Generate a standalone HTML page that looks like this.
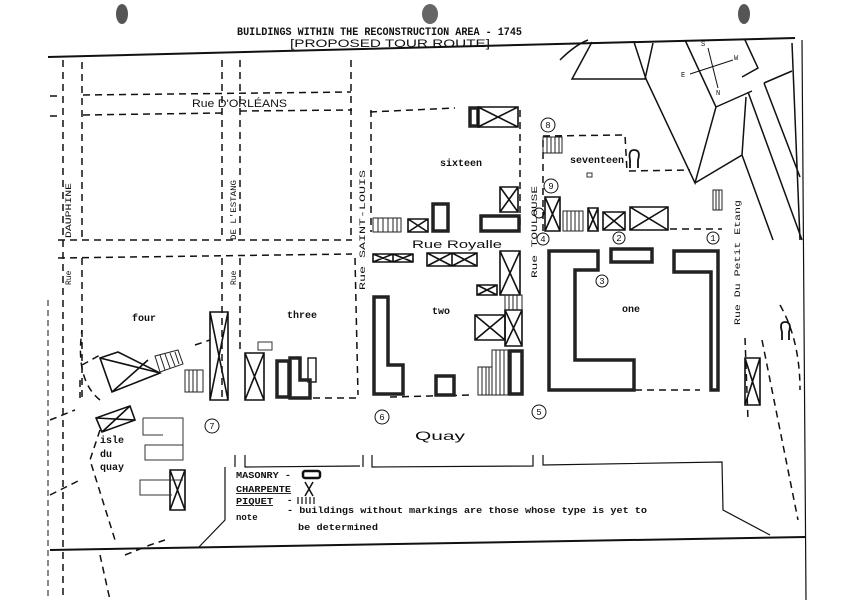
<!DOCTYPE html>
<html><head><meta charset="utf-8"><style>
html,body{margin:0;padding:0;background:#fff}
svg{display:block}
text{font-family:"Liberation Mono",monospace;fill:#111}
.h{font-family:"Liberation Sans",sans-serif}
</style></head><body>
<svg width="841" height="602" viewBox="0 0 841 602" xmlns="http://www.w3.org/2000/svg">
<rect width="841" height="602" fill="#fff"/>
<ellipse cx="122" cy="14" rx="6" ry="10" fill="#555"/>
<ellipse cx="430" cy="14" rx="8" ry="10" fill="#666"/>
<ellipse cx="744" cy="14" rx="6" ry="10" fill="#555"/>
<text x="237" y="35" font-size="11" font-weight="bold" textLength="285" lengthAdjust="spacingAndGlyphs">BUILDINGS WITHIN THE RECONSTRUCTION AREA - 1745</text>
<text x="290" y="47" font-size="11" class="h" textLength="200" lengthAdjust="spacingAndGlyphs">[PROPOSED  TOUR  ROUTE]</text>
<g stroke="#111" fill="none" stroke-width="1.5">
<line x1="48" y1="57" x2="795" y2="38" stroke-width="2"/>
<line x1="50" y1="550" x2="806" y2="537" stroke-width="2"/>
<line x1="802" y1="40" x2="806" y2="600" stroke-width="1.2"/>
<line x1="48" y1="300" x2="48" y2="600" stroke-width="1" stroke-dasharray="6 4"/>
<path d="M560,60 Q575,45 588,40"/>
<path d="M592,42 L572,79 L645,79 L653,43"/>
<path d="M634,42 L646,79 L695,183 L716,107 L685,40"/>
<path d="M716,107 L752,91 M742,77 L758,68 L745,40"/>
<path d="M695,183 L742,155 L746,97 M742,155 L773,240"/>
<path d="M748,92 L802,240 M764,83 L792,71 M764,83 L800,177 M792,43 L800,240"/>
<path d="M708,48 L718,88 M690,74 L733,60" stroke-width="1"/>
</g>
<text x="701" y="46" font-size="7">S</text>
<text x="681" y="77" font-size="7">E</text>
<text x="734" y="60" font-size="7">W</text>
<text x="716" y="95" font-size="7">N</text>
<g stroke="#111" fill="none" stroke-width="1.5" stroke-dasharray="7 5">
<path d="M83,95 L351,92"/>
<path d="M50,96 L60,96"/>
<path d="M83,115 L222,113 M240,111 L352,110"/>
<path d="M50,116 L60,116"/>
<path d="M370,112 L455,108"/>
<path d="M63,60 L63,600"/>
<path d="M82,62 L82,240 M82,258 L82,400"/>
<path d="M222,60 L222,240 M222,258 L222,400"/>
<path d="M240,60 L240,240 M240,258 L240,352"/>
<path d="M351,60 L351,240 M355,258 L358,395"/>
<path d="M371,110 L371,232"/>
<path d="M520,110 L520,230"/>
<path d="M543,140 L543,235"/>
<path d="M58,240 L352,240"/>
<path d="M58,258 L352,254"/>
<path d="M543,136 L625,135 L627,171 L690,170"/>
<path d="M670,229 L722,229"/>
<path d="M635,390 L700,390"/>
<path d="M313,398 L357,398 M390,397 L470,395"/>
<path d="M100,400 Q75,380 82,330"/>
<path d="M50,420 L75,410 M80,380 L80,398"/>
<path d="M50,495 L80,480 M82,365 L100,355 M195,345 L210,340"/>
<path d="M100,430 L90,460 L115,540"/>
<path d="M125,555 L150,545 L165,540 M100,555 L110,600"/>
<path d="M745,338 L748,420"/>
<path d="M762,340 L790,480 L798,520"/>
<path d="M780,305 Q800,340 800,390"/>
</g>
<text x="192" y="107" font-size="11" class="h" textLength="95" lengthAdjust="spacingAndGlyphs">Rue D'ORLÉANS</text>
<text x="412" y="248" font-size="11" class="h" textLength="90" lengthAdjust="spacingAndGlyphs">Rue Royalle</text>
<text x="415" y="440" font-size="12" class="h" textLength="50" lengthAdjust="spacingAndGlyphs">Quay</text>
<g font-size="8" class="h" fill="#222">
<text transform="translate(71,238) rotate(-90)" textLength="55" lengthAdjust="spacingAndGlyphs">DAUPHINE</text>
<text transform="translate(71,285) rotate(-90)">Rue</text>
<text transform="translate(236,240) rotate(-90)" textLength="60" lengthAdjust="spacingAndGlyphs">DE L'ESTANG</text>
<text transform="translate(236,285) rotate(-90)">Rue</text>
<text transform="translate(365,290) rotate(-90)" textLength="120" lengthAdjust="spacingAndGlyphs">Rue SAINT-LOUIS</text>
<text transform="translate(537,278) rotate(-90)" textLength="92" lengthAdjust="spacingAndGlyphs">Rue TOULOUSE</text>
<text transform="translate(740,325) rotate(-90)" textLength="125" lengthAdjust="spacingAndGlyphs">Rue Du Petit Etang</text>
</g>
<g font-size="10" font-weight="bold">
<text x="440" y="166">sixteen</text>
<text x="570" y="163">seventeen</text>
<text x="132" y="321">four</text>
<text x="287" y="318">three</text>
<text x="432" y="314">two</text>
<text x="622" y="312">one</text>
<text x="100" y="443">isle</text>
<text x="100" y="457">du</text>
<text x="100" y="470">quay</text>
</g>
<g stroke="#111" fill="none" stroke-width="1">
<circle cx="548" cy="125" r="7"/><circle cx="551" cy="186" r="7"/><circle cx="539" cy="213" r="5"/>
<circle cx="543" cy="239" r="6"/><circle cx="619" cy="238" r="6"/><circle cx="713" cy="238" r="6"/>
<circle cx="602" cy="281" r="6"/><circle cx="382" cy="417" r="7"/><circle cx="539" cy="412" r="7"/>
<circle cx="212" cy="426" r="7"/>
</g>
<g font-size="9" class="h" text-anchor="middle">
<text x="548" y="128">8</text><text x="551" y="189">9</text><text x="543" y="242">4</text><text x="619" y="241">2</text><text x="713" y="241">1</text><text x="602" y="284">3</text><text x="382" y="420">6</text><text x="539" y="415">5</text><text x="212" y="429">7</text>
</g>
<g stroke="#222" fill="none" stroke-width="3.5">
<rect x="433" y="204" width="15" height="27"/>
<rect x="481" y="216" width="38" height="15"/>
<rect x="470" y="108" width="8" height="18"/>
<path d="M374,297 L388,297 L388,365 L403,365 L403,394 L374,394 Z"/>
<rect x="436" y="376" width="18" height="19"/>
<rect x="510" y="351" width="12" height="43"/>
<path d="M549,251 L598,251 L598,270 L575,270 L575,360 L634,360 L634,390 L549,390 Z"/>
<rect x="611" y="249" width="41" height="13"/>
<path d="M674,251 L718,251 L718,390 L711,390 L711,272 L674,272 Z"/>
<rect x="277" y="361" width="12" height="36"/>
<path d="M290,398 L290,358 L300,358 L300,380 L310,380 L310,398 Z"/>
<rect x="308" y="358" width="8" height="24" stroke-width="1.5"/>
</g>
<g stroke="#111" fill="none" stroke-width="1.6">
<path d="M478,107 L518,107 L518,127 L478,127 Z M478,107 L518,127 M518,107 L478,127"/>
<path d="M500,187 L518,187 L518,212 L500,212 Z M500,187 L518,212 M518,187 L500,212"/>
<path d="M408,219 L428,219 L428,232 L408,232 Z M408,219 L428,232 M428,219 L408,232"/>
<path d="M545,197 L560,197 L560,231 L545,231 Z M545,197 L560,231 M560,197 L545,231"/>
<path d="M588,208 L598,208 L598,231 L588,231 Z M588,208 L598,231 M598,208 L588,231"/>
<path d="M603,212 L625,212 L625,230 L603,230 Z M603,212 L625,230 M625,212 L603,230"/>
<path d="M630,207 L668,207 L668,230 L630,230 Z M630,207 L668,230 M668,207 L630,230"/>
<path d="M373,254 L393,254 L393,262 L373,262 Z M373,254 L393,262 M393,254 L373,262 M393,254 L413,254 L413,262 L393,262 M393,254 L413,262 M413,254 L393,262"/>
<path d="M427,253 L452,253 L452,266 L427,266 Z M427,253 L452,266 M452,253 L427,266 M452,253 L477,253 L477,266 L452,266 M452,253 L477,266 M477,253 L452,266"/>
<path d="M500,251 L520,251 L520,295 L500,295 Z M500,251 L520,295 M520,251 L500,295"/>
<path d="M477,285 L497,285 L497,295 L477,295 Z M477,285 L497,295 M497,285 L477,295"/>
<path d="M475,315 L505,315 L505,340 L475,340 Z M475,315 L505,340 M505,315 L475,340"/>
<path d="M505,310 L522,310 L522,346 L505,346 Z M505,310 L522,346 M522,310 L505,346"/>
<path d="M210,312 L228,312 L228,400 L210,400 Z M210,312 L228,400 M228,312 L210,400"/>
<path d="M100,358 L118,352 L160,373 L112,392 Z M100,358 L160,373 M148,360 L112,392"/>
<path d="M245,353 L264,353 L264,400 L245,400 Z M245,353 L264,400 M264,353 L245,400"/>
<path d="M96,418 L130,406 L135,420 L102,432 Z M96,418 L135,420 M130,406 L102,432"/>
<path d="M170,470 L185,470 L185,510 L170,510 Z M170,470 L185,510 M185,470 L170,510"/>
<path d="M745,358 L760,358 L760,405 L745,405 Z M745,358 L760,405 M760,358 L745,405"/>
</g>
<g stroke="#222" fill="none" stroke-width="1">
<rect x="373" y="218" width="28" height="14"/><path d="M378,218V232M383,218V232M388,218V232M393,218V232M397,218V232"/>
<rect x="543" y="137" width="19" height="16"/><path d="M547,137V153M551,137V153M555,137V153M559,137V153"/>
<rect x="563" y="211" width="20" height="20"/><path d="M567,211V231M571,211V231M575,211V231M579,211V231"/>
<rect x="713" y="190" width="9" height="20"/><path d="M716,190V210M719,190V210"/>
<rect x="478" y="367" width="14" height="28"/><path d="M482,367V395M486,367V395M489,367V395"/>
<rect x="492" y="350" width="16" height="45"/><path d="M496,350V395M500,350V395M504,350V395"/>
<rect x="505" y="295" width="17" height="15"/><path d="M509,295V310M513,295V310M517,295V310"/>
<rect x="185" y="370" width="18" height="22"/><path d="M189,370V392M193,370V392M197,370V392"/>
<path d="M155,356 L178,350 L183,364 L160,372 Z M160,355 L165,370 M165,354 L170,368 M170,353 L175,366 M175,352 L179,364"/>
</g>
<g stroke="#333" fill="none" stroke-width="1">
<rect x="258" y="342" width="14" height="8"/>
<path d="M143,418 L183,418 L183,460 L145,460 L145,445 L183,445 M143,418 L143,435 L163,435"/>
<path d="M183,480 L140,480 L140,495 L172,495"/>
<rect x="587" y="173" width="5" height="4"/>
</g>
<g stroke="#111" fill="none" stroke-width="1.8">
<path d="M630,168 L630,160 Q628,150 634,150 Q641,150 638,160 L638,168"/>
<path d="M782,340 L782,332 Q779,322 785,322 Q792,322 789,332 L789,340"/>
</g>
<g stroke="#111" fill="none" stroke-width="1.2">
<path d="M235,455 L235,467 M245,455 L245,467 L360,466 M363,455 L363,467 M372,455 L372,467 L533,466 L533,455 M543,455 L543,465 L722,462 L723,510 L770,535"/>
<path d="M225,467 L225,520 L198,548"/>
</g>
<g font-size="9" font-weight="bold">
<text x="236" y="478" textLength="55" lengthAdjust="spacingAndGlyphs">MASONRY -</text>
<text x="236" y="492" textLength="55" lengthAdjust="spacingAndGlyphs" text-decoration="underline">CHARPENTE</text>
<text x="236" y="504" textLength="37" lengthAdjust="spacingAndGlyphs" text-decoration="underline">PIQUET</text>
<text x="287" y="503">-</text>
<text x="236" y="520">note</text>
<text x="287" y="513" textLength="360" lengthAdjust="spacingAndGlyphs">- buildings without markings are those whose type is yet to</text>
<text x="298" y="530" textLength="80" lengthAdjust="spacingAndGlyphs">be determined</text>
</g>
<path d="M298,497V504M302,497V504M306,497V504M310,497V504M314,497V504" stroke="#111" stroke-width="1.2"/>
<rect x="303" y="471" width="17" height="7" rx="2" stroke="#111" stroke-width="2.5" fill="none"/>
<path d="M305,482 L313,496 M313,482 L305,496" stroke="#111" stroke-width="1.5"/>
</svg>
</body></html>
